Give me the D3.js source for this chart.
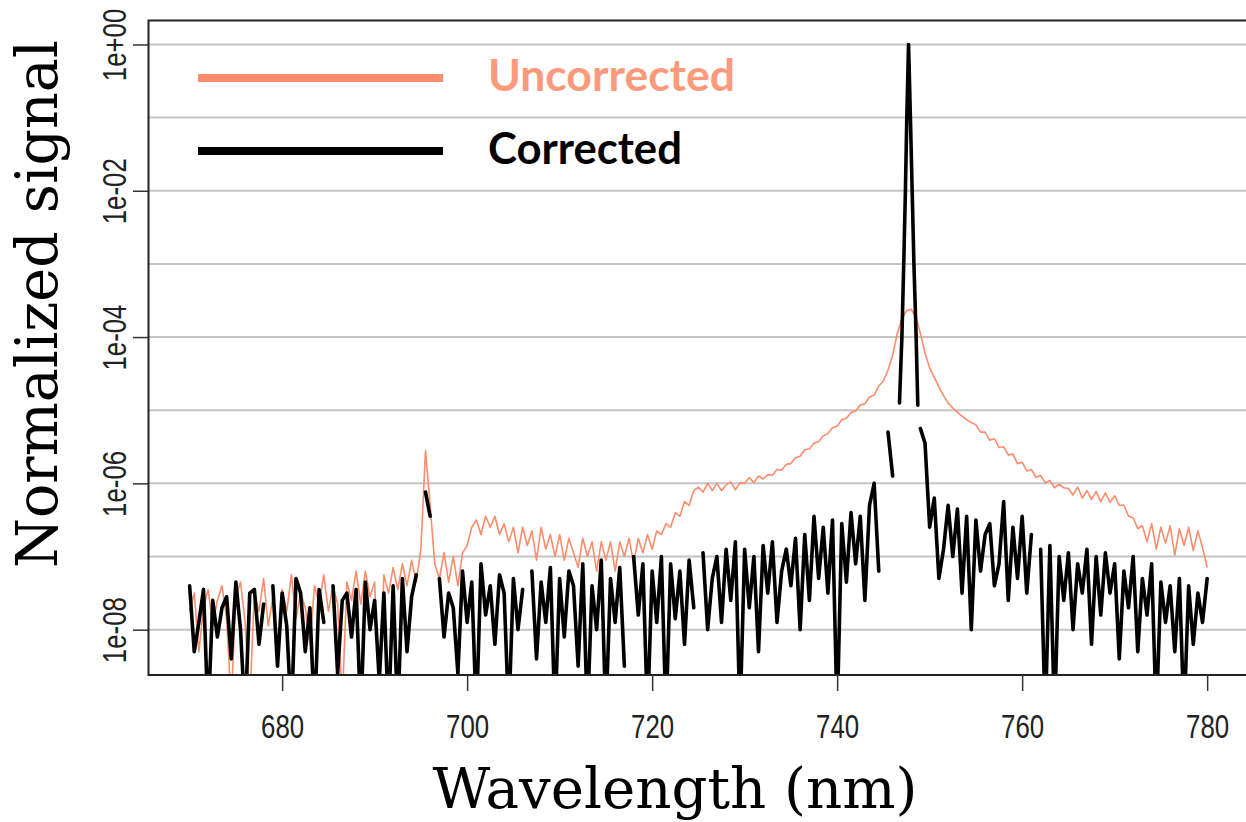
<!DOCTYPE html>
<html>
<head>
<meta charset="utf-8">
<script src="https://cdn.jsdelivr.net/npm/d3@7"></script>
<style>
  body { margin: 0; background: #fff; }
</style>
</head>
<body>
<div id="chart"></div>
<script>
// Wavelength sampling of the spectra (nm), one sample every 0.5 nm from 670 to 780
var wavelengths = d3.range(670, 780.25, 0.5);

// log10 of the normalized signal
var uncorrectedLog = [
  -7.75, -7.5, -8.3, -7.7, -7.45, -7.95, -7.6, -7.4, -7.85, -9.0,    // 670
  -7.55, -7.35, -7.9, -9.0, -7.5, -7.75, -7.3, -7.95, -7.55, -8.4,   // 675
  -7.45, -7.75, -7.25, -7.85, -7.5, -7.7, -8.2, -7.4, -7.65, -7.25,  // 680
  -7.75, -7.4, -7.65, -9.0, -7.35, -7.6, -7.2, -7.65, -7.2, -7.55,   // 685
  -7.35, -9.0, -7.25, -7.5, -7.15, -7.45, -7.1, -7.4, -7.05, -7.35,  // 690
  -6.9, -5.55, -6.3, -7.1, -7.3, -6.95, -7.35, -7.0, -7.4, -6.95,    // 695
  -6.85, -6.6, -6.5, -6.7, -6.45, -6.6, -6.45, -6.7, -6.55, -6.8,    // 700
  -6.6, -6.95, -6.6, -6.85, -6.65, -7.05, -6.6, -6.9, -6.7, -7.0,    // 705
  -6.7, -7.05, -6.75, -6.95, -7.15, -6.75, -7.0, -6.8, -7.2, -6.8,   // 710
  -7.05, -6.8, -7.2, -6.8, -7.0, -6.75, -7.1, -6.75, -6.95, -6.7,    // 715
  -6.9, -6.65, -6.7, -6.55, -6.6, -6.4, -6.45, -6.25, -6.3, -6.1,    // 720
  -6.05, -6.12, -6.0, -6.1, -6.0, -6.1, -6.02, -5.98, -6.09, -5.99,  // 725
  -6.0, -5.92, -5.99, -5.9, -5.94, -5.88, -5.89, -5.81, -5.82, -5.74, // 730
  -5.73, -5.65, -5.63, -5.54, -5.53, -5.45, -5.43, -5.35, -5.32, -5.24, // 735
  -5.22, -5.13, -5.11, -5.03, -5.01, -4.93, -4.91, -4.82, -4.79, -4.67, // 740
  -4.6, -4.45, -4.25, -3.95, -3.75, -3.64, -3.62, -3.72, -3.95, -4.22,  // 745
  -4.42, -4.55, -4.68, -4.8, -4.9, -4.97, -5.03, -5.08, -5.13, -5.17,   // 750
  -5.2, -5.3, -5.3, -5.41, -5.39, -5.51, -5.5, -5.61, -5.6, -5.73,      // 755
  -5.71, -5.83, -5.81, -5.92, -5.89, -5.99, -5.96, -6.06, -6.01, -6.06, // 760
  -6.07, -6.16, -6.05, -6.2, -6.1, -6.22, -6.11, -6.25, -6.13, -6.26,   // 765
  -6.17, -6.3, -6.3, -6.45, -6.47, -6.62, -6.58, -6.8, -6.55, -6.9,     // 770
  -6.6, -6.82, -6.58, -6.98, -6.62, -6.85, -6.6, -6.92, -6.65, -6.88,   // 775
  -7.15                                                                 // 780
];

// null = signal not positive (no point on a log axis)
var correctedLog = [
  -7.4, -8.3, -7.9, -7.45, -9.2, -7.6, -8.1, -7.7, -7.55, -8.4,      // 670
  -7.35, -8.0, -9.2, -7.5, -7.45, -8.2, -7.65, null, -7.4, -8.5,     // 675
  -7.5, -7.95, -9.2, -7.3, -7.5, -8.3, -7.7, -9.2, -7.45, -7.9,      // 680
  null, -7.4, -8.6, -7.6, -7.5, -8.1, -7.45, -9.2, -7.35, -8.0,      // 685
  -7.6, -8.7, -7.5, -9.2, -7.4, -9.2, -7.3, -8.3, -7.55, -7.25,      // 690
  null, -6.12, -6.45, null, -7.3, -8.1, -7.5, -7.7, -8.6, -7.2,      // 695
  -7.9, -7.35, -9.2, -7.1, -7.8, -7.4, -8.2, -7.25, -7.5, -9.2,      // 700
  -7.3, -8.0, -7.45, null, -7.2, -8.4, -7.35, -7.9, -7.15, -9.2,     // 705
  -7.3, -8.1, -7.2, -7.4, -8.5, -7.1, -9.2, -7.4, -8.0, -7.05,       // 710
  -9.2, -7.3, -7.9, -7.15, -8.5, null, -7.0, -7.8, -7.1, -9.2,       // 715
  -7.2, -7.9, -7.0, -9.2, -7.1, -7.85, -7.2, -8.2, -7.05, -7.7,      // 720
  null, -6.95, -8.0, -7.3, -7.0, -7.9, -6.9, -7.6, -6.8, -9.2,       // 725
  -6.9, -7.7, -7.0, -8.3, -6.85, -7.5, -6.8, -7.9, -7.2, -6.9,       // 730
  -7.4, -6.75, -8.0, -6.7, -7.6, -6.45, -7.3, -6.6, -7.5, -6.5,      // 735
  -9.2, -6.55, -7.35, -6.4, -7.1, -6.45, -7.6, -6.3, -6.0, -7.2,     // 740
  null, -5.3, -5.9, null, null, null, null, null, -5.25, -5.45,      // 745
  -6.6, -6.2, -7.3, -6.9, -6.3, -7.0, -6.35, -7.5, -6.45, -8.0,      // 750
  -6.5, -7.2, -6.7, -6.55, -7.4, -7.1, -6.25, -7.6, -6.6, -7.3,      // 755
  -6.45, -7.5, -6.7, null, -6.9, -9.2, -6.85, -9.2, -7.0, -7.6,      // 760
  -6.95, -8.0, -7.1, -7.5, -6.9, -8.2, -7.0, -7.8, -6.95, -7.5,      // 765
  -7.1, -8.4, -7.2, -7.7, -7.0, -8.3, -7.3, -7.8, -7.1, -9.2,        // 770
  -7.35, -7.9, -7.4, -8.3, -7.3, -9.2, -7.4, -8.2, -7.5, -7.9,       // 775
  -7.3                                                               // 780
];

// the corrected laser line itself, sampled more finely
var peakWavelengths = [746.74, 747.0, 747.2, 747.38, 747.53, 747.72, 747.92, 748.11, 748.3, 748.54, 748.72];
var peakLog = [-4.9, -4.0, -3.0, -2.0, -1.0, 0, -1.0, -2.0, -3.0, -4.0, -4.93];

var xTicks = [680, 700, 720, 740, 760, 780];
var yTicks = [1, 1e-2, 1e-4, 1e-6, 1e-8];
var yTickLabels = ['1e+00', '1e-02', '1e-04', '1e-06', '1e-08'];
var gridLines = [1, 1e-1, 1e-2, 1e-3, 1e-4, 1e-5, 1e-6, 1e-7, 1e-8];
var seriesNames = ['Uncorrected', 'Corrected'];
var seriesColors = ['#fb8c6c', '#000000'];

// svg size
var svgWidth = 1246;
var svgHeight = 822;

var margin = { top: 20, right: 0, bottom: 147, left: 148 };
var width = svgWidth - margin.left - margin.right;
var height = svgHeight - margin.top - margin.bottom;

var svg = d3.select('#chart')
  .append('svg')
  .attr('width', svgWidth)
  .attr('height', svgHeight);

var chartGroup = svg.append('g')
  .attr('transform', `translate(${margin.left}, ${margin.top})`);

var xScale = d3.scaleLinear().domain([665.5, 784.2]).range([0, width]);
var yScale = d3.scaleLog().domain([2.4e-9, 2.16]).range([height, 0]);

// grid
chartGroup.selectAll('.grid')
  .data(gridLines)
  .enter()
  .append('line')
  .attr('class', 'grid')
  .attr('x1', 0)
  .attr('x2', width)
  .attr('y1', d => yScale(d))
  .attr('y2', d => yScale(d))
  .attr('stroke', '#c4c4c4')
  .attr('stroke-width', 2);

// clip
svg.append('defs').append('clipPath')
  .attr('id', 'plotClip')
  .append('rect')
  .attr('x', 0)
  .attr('y', 0)
  .attr('width', width)
  .attr('height', height);

var plotArea = chartGroup.append('g').attr('clip-path', 'url(#plotClip)');

var line = d3.line()
  .defined(d => d.v !== null)
  .x(d => xScale(d.w))
  .y(d => yScale(Math.pow(10, d.v)));

var uncorrected = wavelengths.map((w, i) => ({ w: w, v: uncorrectedLog[i] }));
var corrected = wavelengths.map((w, i) => ({ w: w, v: correctedLog[i] }));
var peak = peakWavelengths.map((w, i) => ({ w: w, v: peakLog[i] }));

plotArea.append('path')
  .datum(uncorrected)
  .attr('d', line)
  .attr('fill', 'none')
  .attr('stroke', seriesColors[0])
  .attr('stroke-width', 1.6)
  .attr('stroke-linejoin', 'round');

plotArea.append('path')
  .datum(corrected)
  .attr('d', line)
  .attr('fill', 'none')
  .attr('stroke', seriesColors[1])
  .attr('stroke-width', 3.6)
  .attr('stroke-linejoin', 'round')
  .attr('stroke-linecap', 'round');

plotArea.append('path')
  .datum(peak)
  .attr('d', line)
  .attr('fill', 'none')
  .attr('stroke', seriesColors[1])
  .attr('stroke-width', 3.6)
  .attr('stroke-linejoin', 'round')
  .attr('stroke-linecap', 'round');

// box (top, left, bottom)
chartGroup.append('path')
  .attr('d', `M${width},0.5 H0.5 V${height} H${width}`)
  .attr('fill', 'none')
  .attr('stroke', '#222')
  .attr('stroke-width', 2);

// x axis
var bottomAxis = d3.axisBottom(xScale)
  .tickValues(xTicks)
  .tickSize(16)
  .tickFormat(d3.format('d'));

var xAxis = chartGroup.append('g')
  .attr('transform', `translate(0, ${height})`)
  .call(bottomAxis);

xAxis.select('.domain').remove();
xAxis.selectAll('line').attr('stroke', '#333').attr('stroke-width', 1.5);
xAxis.selectAll('text')
  .attr('y', 63)
  .attr('dy', 0)
  .attr('transform', 'scale(0.76,1)')
  .attr('fill', '#222')
  .style('font-family', "'Liberation Sans', Arial, sans-serif")
  .style('font-size', '34px');

// y axis
var leftAxis = d3.axisLeft(yScale)
  .tickValues(yTicks)
  .tickSize(15)
  .tickFormat((d, i) => yTickLabels[i]);

var yAxis = chartGroup.append('g').call(leftAxis);

yAxis.select('.domain').remove();
yAxis.selectAll('line').attr('stroke', '#333').attr('stroke-width', 1.5);
yAxis.selectAll('text')
  .attr('x', 0)
  .attr('y', -22)
  .attr('dy', 0)
  .attr('transform', 'rotate(-90) scale(0.76,1)')
  .attr('text-anchor', 'middle')
  .attr('fill', '#222')
  .style('font-family', "'Liberation Sans', Arial, sans-serif")
  .style('font-size', '34px');

// fit a text to a width by changing its font size
function fitWidth(text, target) {
  var len = text.node().getComputedTextLength();
  var fs = parseFloat(text.style('font-size'));
  text.style('font-size', (fs * target / len) + 'px');
}

// axis titles
var xTitle = svg.append('text')
  .attr('x', 675)
  .attr('y', 808)
  .attr('text-anchor', 'middle')
  .style('font-family', "'DejaVu Serif', 'Liberation Serif', serif")
  .style('font-size', '56px')
  .text('Wavelength (nm)');
fitWidth(xTitle, 485);

var yTitle = svg.append('text')
  .attr('transform', 'translate(57, 304) rotate(-90)')
  .attr('text-anchor', 'middle')
  .style('font-family', "'DejaVu Serif', 'Liberation Serif', serif")
  .style('font-size', '56px')
  .text('Normalized signal');
fitWidth(yTitle, 528);

// legend
var legendY = [78, 151];
var legendWidths = [247, 194];

seriesNames.forEach(function (name, i) {
  svg.append('line')
    .attr('x1', 198)
    .attr('x2', 443)
    .attr('y1', legendY[i])
    .attr('y2', legendY[i])
    .attr('stroke', seriesColors[i])
    .attr('stroke-width', 8);

  var t = svg.append('text')
    .attr('x', 488)
    .attr('y', legendY[i] + 13)
    .attr('fill', i === 0 ? '#fd9a7c' : '#000')
    .style('font-family', "Lato, 'Open Sans', sans-serif")
    .style('font-weight', 'bold')
    .style('font-size', '40px')
    .text(name);
  fitWidth(t, legendWidths[i]);
});
</script>
</body>
</html>
